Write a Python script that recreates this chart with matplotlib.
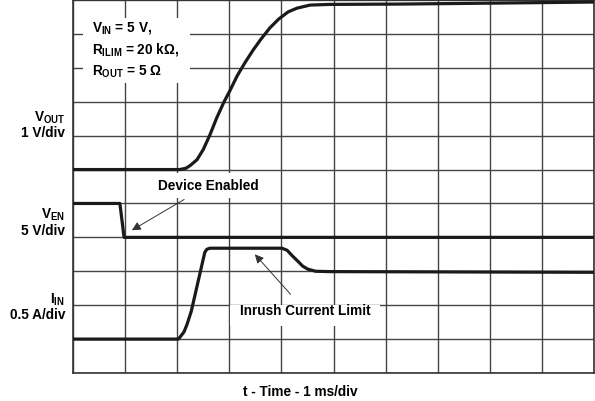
import matplotlib
matplotlib.use('Agg')
import matplotlib.pyplot as plt
from matplotlib.patches import Rectangle

plt.rcParams['font.family'] = 'Liberation Sans'
plt.rcParams['font.weight'] = 'bold'
plt.rcParams['mathtext.fontset'] = 'custom'
plt.rcParams['mathtext.rm'] = 'Liberation Sans:bold'
plt.rcParams['mathtext.bf'] = 'Liberation Sans:bold'
plt.rcParams['mathtext.it'] = 'Liberation Sans:bold'

# time in ms (1 ms/div), levels in screen divisions from the bottom
vout_t = [0, 2.05, 2.17, 2.25, 2.38, 2.50, 2.63, 2.76, 2.90, 3.01, 3.15, 3.30, 3.46,
          3.61, 3.78, 3.95, 4.13, 4.30, 4.55, 4.93, 6.28, 8.2, 10]
vout_y = [6.0, 6.0, 6.04, 6.12, 6.29, 6.59, 7.03, 7.53, 8.0, 8.32, 8.76, 9.15, 9.53,
          9.85, 10.18, 10.44, 10.65, 10.76, 10.85, 10.87, 10.88, 10.91, 10.94]

ven_t = [0, 0.90, 0.98, 10]
ven_y = [5.0, 5.0, 4.0, 4.0]

iin_t = [0, 2.02, 2.07, 2.13, 2.19, 2.27, 2.53, 2.57, 2.63, 4.01, 4.11, 4.20, 4.32,
         4.41, 4.51, 4.66, 4.93, 10]
iin_y = [1.0, 1.0, 1.09, 1.21, 1.44, 1.82, 3.56, 3.65, 3.68, 3.68, 3.62, 3.47, 3.29,
         3.15, 3.06, 3.0, 2.99, 2.97]

fig = plt.figure(figsize=(5.95, 4.02), dpi=100)
ax = fig.add_axes([73/595, 1 - 374/402, 521/595, 373/402])
ax.set_xlim(0, 10)
ax.set_ylim(0, 11)
ax.set_xticks(range(11))
ax.set_yticks(range(12))
ax.tick_params(length=0, labelbottom=False, labelleft=False)
ax.set_axisbelow(True)
ax.grid(True, color='#444444', linewidth=1.0)
for s in ax.spines.values():
    s.set_color('#333333')
    s.set_linewidth(1.2)

for tt, yy in [(vout_t, vout_y), (ven_t, ven_y), (iin_t, iin_y)]:
    ax.plot(tt, yy, color='#1a1a1a', linewidth=2.3, zorder=3,
            solid_joinstyle='round', solid_capstyle='butt')

# white box behind the conditions text
ax.add_patch(Rectangle((0.19, 8.56), 2.06, 1.91, facecolor='white', edgecolor='none', zorder=1.5))
ax.text(0.37, 10.2, r'V$_{\mathrm{IN}}$ = 5 V,', fontsize=9.8, va='center', zorder=4)
ax.text(0.37, 9.56, r'R$_{\mathrm{ILIM}}$ = 20 kΩ,', fontsize=9.8, va='center', zorder=4)
ax.text(0.37, 8.92, r'R$_{\mathrm{OUT}}$ = 5 Ω', fontsize=9.8, va='center', zorder=4)

ax.add_patch(Rectangle((1.6, 5.15), 2.0, 0.75, facecolor='white', edgecolor='none', zorder=1.5))
ax.annotate('Device Enabled', xy=(1.13, 4.21), xytext=(2.59, 5.53),
            fontsize=9.8, ha='center', va='center', zorder=4,
            arrowprops=dict(arrowstyle='-|>', color='#333333', lw=0.7,
                            mutation_scale=13, shrinkA=6, shrinkB=0))

ax.add_patch(Rectangle((3.02, 1.4), 2.88, 0.62, facecolor='white', edgecolor='none', zorder=1.5))
ax.annotate('Inrush Current Limit', xy=(3.49, 3.50), xytext=(4.45, 1.85),
            fontsize=9.8, ha='center', va='center', zorder=4,
            arrowprops=dict(arrowstyle='-|>', color='#333333', lw=0.7,
                            mutation_scale=13, shrinkA=6, shrinkB=0))

# channel labels at the left
def lab(y, s):
    fig.text(65/595, 1 - y/402, s, ha='right', va='center', fontsize=9.8)

lab(118, r'V$_{\mathrm{OUT}}$')
lab(133, '1 V/div')
lab(215, r'V$_{\mathrm{EN}}$')
lab(231, '5 V/div')
lab(300, r'I$_{\mathrm{IN}}$')
lab(315, '0.5 A/div')

fig.text(300/595, 1 - 392/402, 't - Time - 1 ms/div', ha='center', va='center', fontsize=9.8)

fig.savefig('out.png', dpi=100)
